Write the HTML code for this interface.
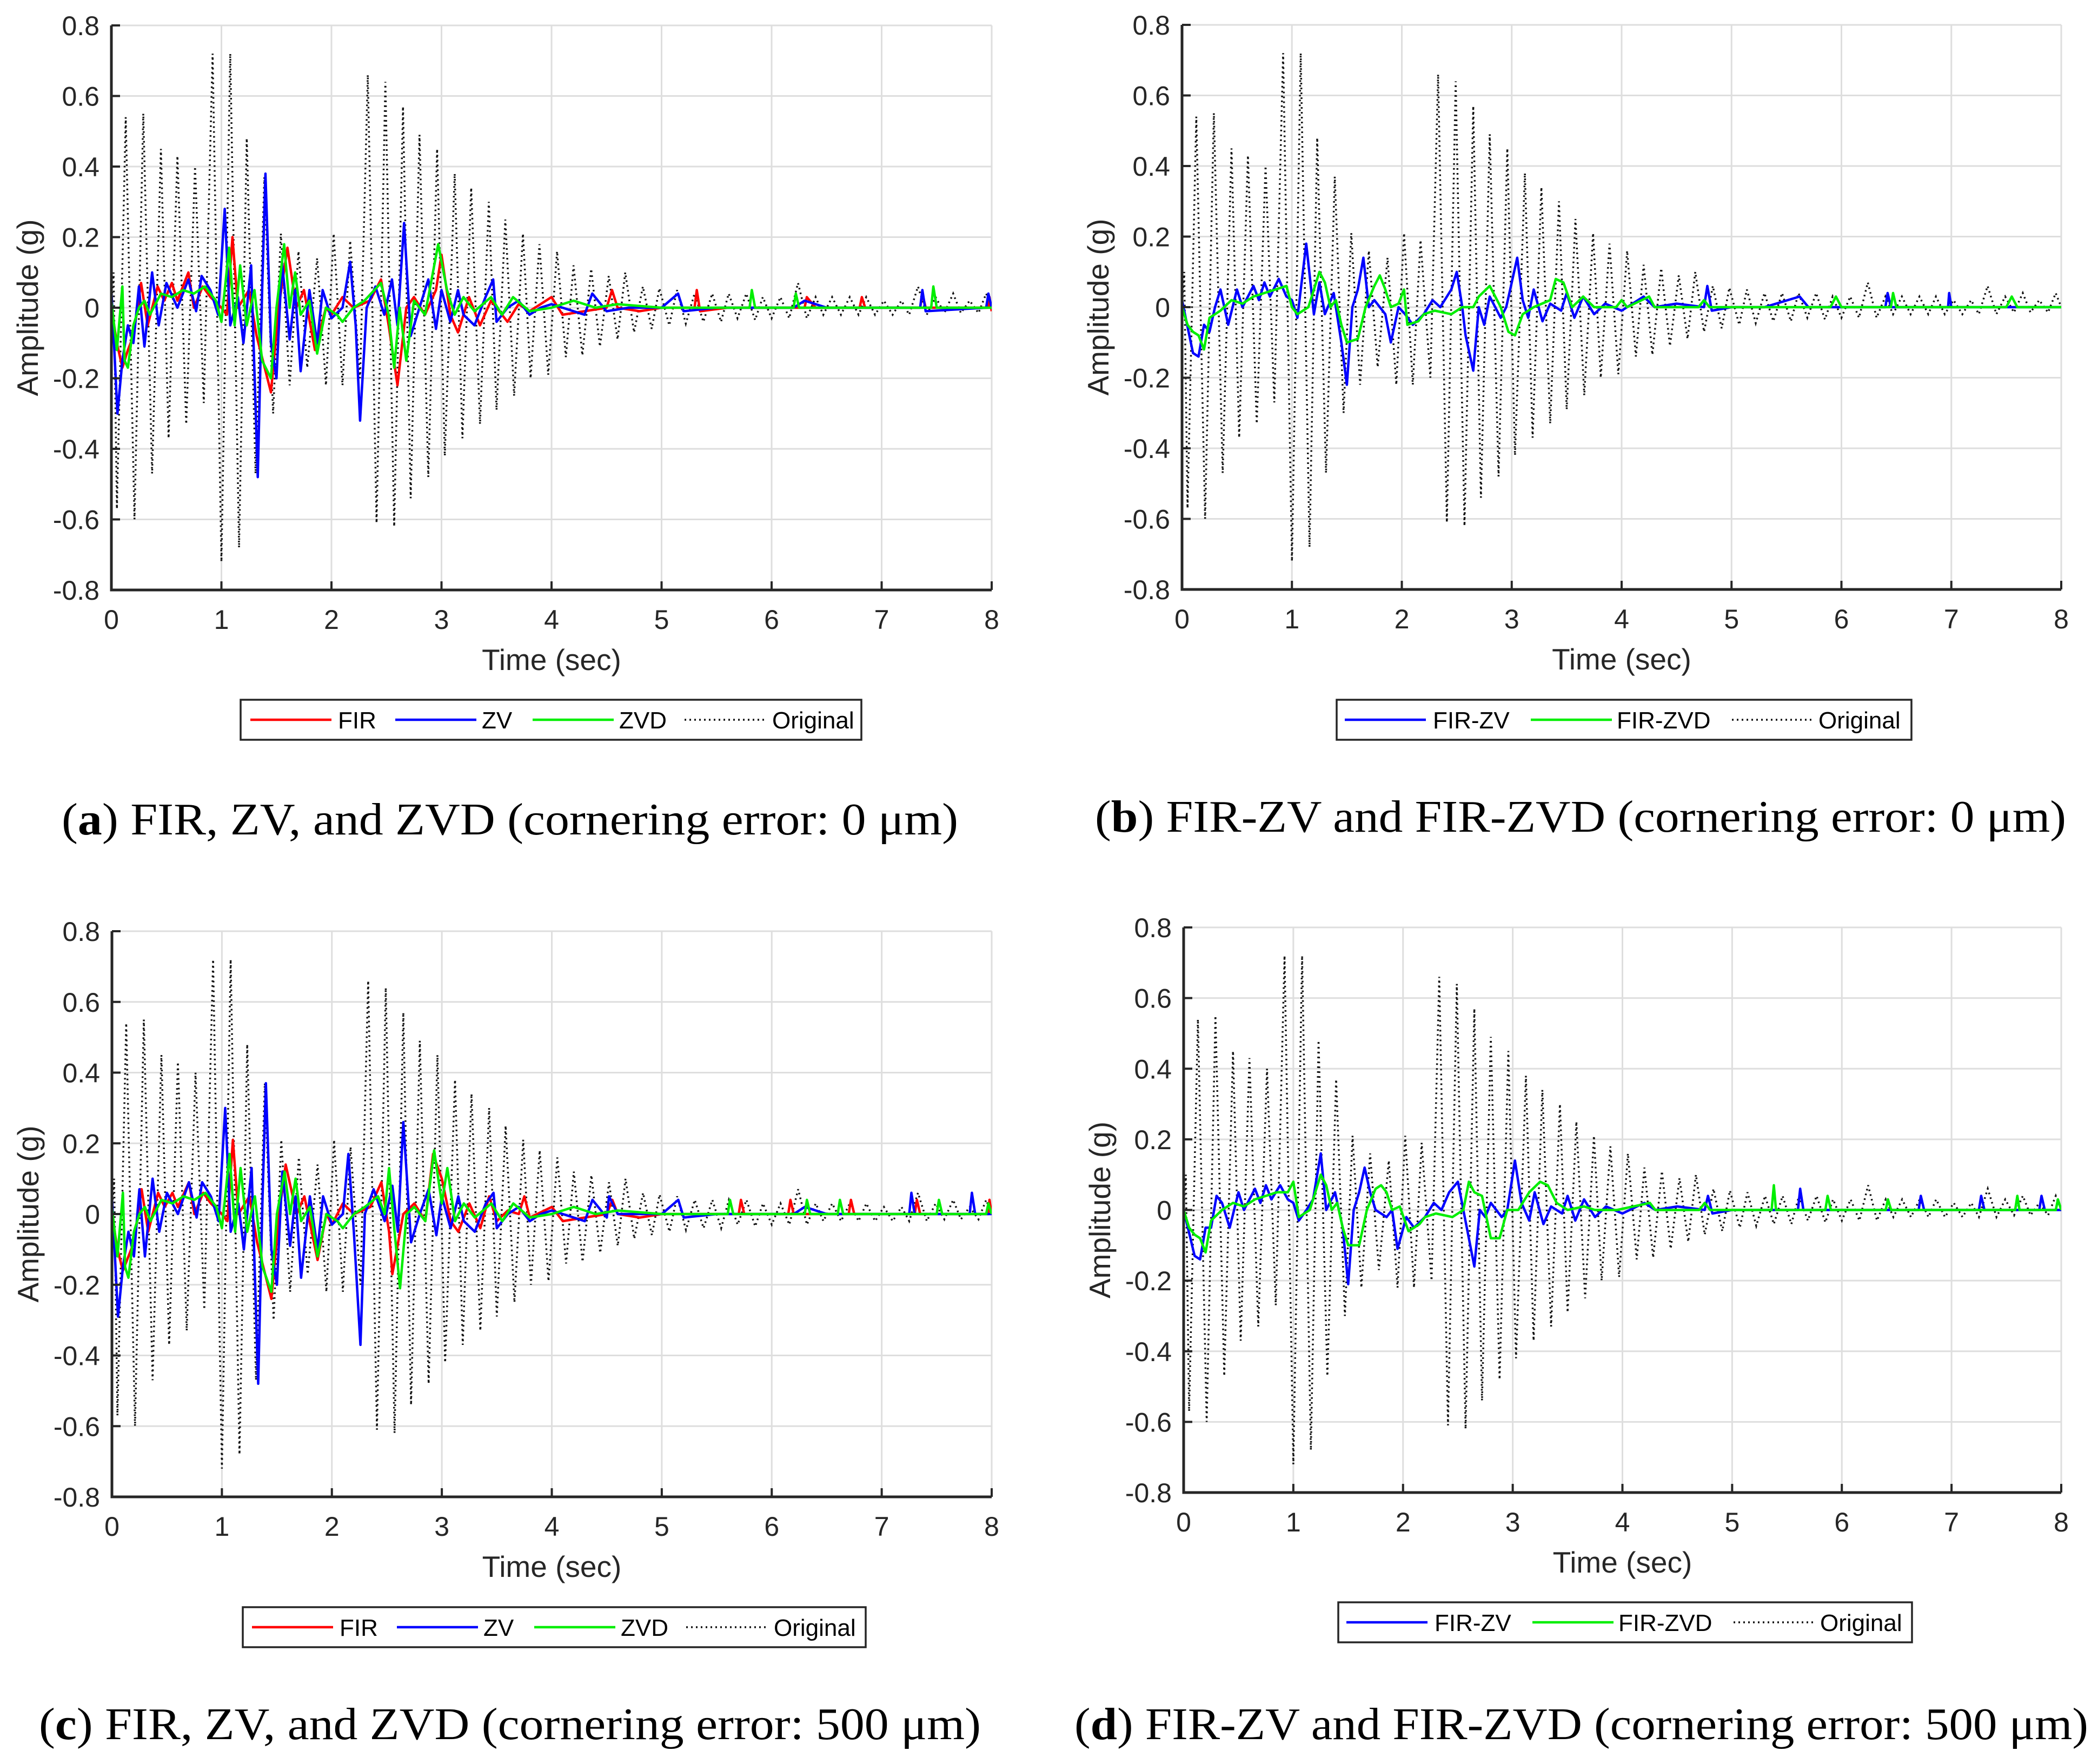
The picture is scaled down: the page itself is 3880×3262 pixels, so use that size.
<!DOCTYPE html>
<html><head><meta charset="utf-8"><style>
html,body{margin:0;padding:0;background:#fff;}
svg{display:block;}
</style></head><body>
<svg id="fig" xmlns="http://www.w3.org/2000/svg" width="3880" height="3262" viewBox="0 0 3880 3262" style="font-family:'Liberation Sans',sans-serif;">
<rect width="3880" height="3262" fill="#fff"/>
</svg>
<script>
// ---- shared data ----
const xTicks=[0,1,2,3,4,5,6,7,8];
const yTicks=[-0.8,-0.6,-0.4,-0.2,0,0.2,0.4,0.6,0.8];
const yTickLabels=['-0.8','-0.6','-0.4','-0.2','0','0.2','0.4','0.6','0.8'];
const origT=[0,0.02,0.05,0.13,0.21,0.29,0.37,0.45,0.52,0.6,0.68,0.76,0.84,0.92,1.0,1.08,1.16,1.23,1.31,1.39,1.47,1.54,1.62,1.7,1.78,1.87,1.95,2.02,2.1,2.17,2.26,2.33,2.41,2.49,2.57,2.65,2.72,2.8,2.88,2.96,3.03,3.12,3.19,3.27,3.35,3.43,3.5,3.58,3.66,3.74,3.81,3.89,3.97,4.05,4.13,4.2,4.28,4.36,4.44,4.52,4.6,4.67,4.75,4.83,4.91,4.98,5.07,5.14,5.22,5.3,5.38,5.46,5.54,5.61,5.69,5.77,5.85,5.92,6.0,6.08,6.16,6.24,6.32,6.4,6.47,6.55,6.63,6.71,6.79,6.86,6.94,7.02,7.1,7.18,7.25,7.33,7.41,7.49,7.57,7.65,7.72,7.8,7.88,7.95,8];
const origV=[0,0.1,-0.57,0.54,-0.6,0.55,-0.47,0.45,-0.37,0.43,-0.33,0.4,-0.27,0.72,-0.72,0.72,-0.68,0.48,-0.47,0.37,-0.3,0.21,-0.22,0.16,-0.17,0.14,-0.22,0.21,-0.22,0.19,-0.2,0.66,-0.61,0.64,-0.62,0.57,-0.54,0.49,-0.48,0.45,-0.42,0.38,-0.37,0.34,-0.33,0.3,-0.29,0.25,-0.25,0.21,-0.2,0.18,-0.19,0.16,-0.14,0.12,-0.135,0.11,-0.11,0.09,-0.09,0.1,-0.07,0.06,-0.06,0.055,-0.05,0.05,-0.045,0.04,-0.04,0.04,-0.04,0.04,-0.03,0.04,-0.035,0.03,-0.03,0.03,-0.03,0.07,-0.03,0.03,-0.02,0.03,-0.02,0.03,-0.02,0.03,-0.02,0.02,-0.02,0.02,-0.02,0.06,-0.02,0.03,-0.015,0.04,-0.015,0.02,-0.015,0.04,0];

// panel (a)
const aFirT=[0,0.05,0.1,0.15,0.2,0.27,0.33,0.42,0.48,0.55,0.6,0.7,0.75,0.83,0.9,1.0,1.05,1.1,1.15,1.25,1.32,1.45,1.52,1.6,1.68,1.75,1.85,1.95,2.0,2.1,2.2,2.35,2.45,2.52,2.6,2.68,2.75,2.85,2.95,3.0,3.08,3.15,3.25,3.35,3.45,3.6,3.7,3.8,4.0,4.1,4.3,4.5,4.55,4.6,4.8,5.0,5.3,5.32,5.35,5.6,6.3,6.32,6.4,6.8,6.82,6.85,7.35,7.37,7.4,7.97,7.98,8];
const aFirV=[0,-0.1,-0.17,-0.12,-0.08,0.07,-0.05,0.06,0.02,0.07,0.02,0.1,0,0.06,0.03,0,-0.02,0.2,0,0.05,-0.08,-0.24,0,0.17,0,0.05,-0.12,0,-0.02,0.03,0,0.02,0.08,-0.05,-0.22,0,0.03,-0.02,0.05,0.15,-0.02,-0.07,0.03,-0.05,0.02,-0.04,0.01,-0.01,0.03,-0.02,-0.01,0,0.05,0,-0.01,0,0,0.05,-0.01,0,0,0.03,0,0,0.03,0,0,0.04,0,0,0.03,-0.01];
const aZvT=[0,0.055,0.1,0.15,0.2,0.25,0.3,0.37,0.43,0.5,0.6,0.7,0.77,0.82,0.9,0.97,1.03,1.08,1.15,1.2,1.27,1.33,1.37,1.4,1.45,1.5,1.55,1.62,1.67,1.72,1.8,1.87,1.92,2.0,2.1,2.17,2.22,2.26,2.32,2.4,2.48,2.55,2.6,2.66,2.72,2.8,2.88,2.95,3.0,3.08,3.15,3.2,3.3,3.4,3.47,3.5,3.6,3.7,3.8,3.9,4.0,4.3,4.37,4.5,4.7,5.0,5.15,5.2,5.5,6.2,6.3,6.5,7.35,7.37,7.4,7.95,7.97,8];
const aZvV=[0.05,-0.3,-0.15,-0.05,-0.1,0.06,-0.11,0.1,-0.05,0.07,0,0.08,-0.01,0.09,0.05,-0.02,0.28,-0.05,0.03,-0.1,0.12,-0.48,0.05,0.38,-0.1,-0.2,0.13,-0.09,0.05,-0.18,0.05,-0.1,0.05,-0.03,0,0.13,-0.05,-0.32,0,0.06,-0.02,0.08,-0.05,0.24,-0.08,0,0.08,-0.06,0.05,-0.04,0.05,-0.02,-0.05,0.03,0.08,-0.04,0,0.02,-0.02,0,0.01,-0.02,0.04,-0.01,0,0,0.04,-0.01,0,0,0.02,0,0,0.05,-0.01,0,0.04,0];
const aZvdT=[0,0.05,0.1,0.12,0.15,0.2,0.25,0.3,0.35,0.45,0.55,0.65,0.75,0.85,0.95,1.0,1.07,1.12,1.17,1.23,1.3,1.37,1.45,1.5,1.57,1.62,1.67,1.72,1.8,1.87,1.95,2.05,2.1,2.2,2.3,2.45,2.52,2.57,2.62,2.68,2.75,2.85,2.97,3.05,3.12,3.2,3.3,3.45,3.55,3.65,3.8,4.0,4.2,4.4,4.6,5.0,5.8,5.82,5.85,6.2,6.22,6.25,6.5,7.45,7.47,7.5,8];
const aZvdV=[0.02,-0.12,0.06,-0.15,-0.17,-0.05,0,0.02,-0.02,0.04,0.03,0.05,0.04,0.06,0.02,-0.04,0.17,-0.05,0.12,-0.05,0.05,-0.15,-0.2,0,0.18,0,0.1,-0.02,0.02,-0.13,0,-0.02,-0.04,0,0.02,0.07,-0.02,-0.17,0,-0.15,0.02,-0.02,0.18,0.05,-0.02,0.03,-0.01,0.03,-0.02,0.03,-0.01,0,0.02,0,0.01,0,0,0.05,0,0,0.04,0,0,0,0.06,0,0];

// panel (c)
const cFirT=[0,0.05,0.1,0.15,0.2,0.27,0.33,0.42,0.48,0.55,0.6,0.7,0.75,0.83,0.9,1.0,1.05,1.1,1.15,1.25,1.32,1.45,1.52,1.58,1.68,1.75,1.87,1.95,2.0,2.1,2.2,2.35,2.45,2.52,2.55,2.65,2.75,2.85,2.92,3.0,3.08,3.15,3.25,3.35,3.43,3.5,3.6,3.7,3.75,3.8,4.0,4.1,4.3,4.5,4.55,4.6,4.8,5.0,5.3,5.7,5.72,5.75,6.15,6.17,6.2,6.7,6.72,6.75,7.3,7.32,7.35,7.97,7.98,8];
const cFirV=[0,-0.1,-0.16,-0.12,-0.08,0.07,-0.05,0.06,0.02,0.06,0.02,0.09,0,0.06,0.03,0,-0.02,0.21,0,0.05,-0.08,-0.24,0,0.14,0,0.05,-0.13,0,-0.03,0.03,0,0.02,0.09,-0.05,-0.17,0,0.03,-0.02,0.17,0.1,-0.02,-0.05,0.03,-0.04,0.05,-0.02,0.01,0,0.05,-0.01,0.02,-0.02,-0.01,0,0.04,0,-0.01,0,0,0,0.04,0,0,0.04,0,0,0.04,0,0,0.04,0,0,0.04,0];
const cZvT=[0,0.055,0.1,0.15,0.2,0.25,0.3,0.37,0.43,0.5,0.6,0.7,0.77,0.82,0.9,0.97,1.03,1.08,1.15,1.2,1.27,1.33,1.37,1.4,1.45,1.5,1.55,1.62,1.67,1.72,1.8,1.87,1.92,2.0,2.1,2.15,2.2,2.26,2.3,2.38,2.48,2.55,2.6,2.65,2.72,2.8,2.88,2.95,3.0,3.08,3.15,3.2,3.3,3.4,3.47,3.5,3.6,3.7,3.8,3.9,4.0,4.3,4.37,4.5,4.52,4.6,4.7,5.0,5.15,5.2,5.5,6.2,6.3,6.5,7.25,7.27,7.3,7.8,7.82,7.85,8];
const cZvV=[0.05,-0.29,-0.15,-0.05,-0.12,0.07,-0.12,0.1,-0.05,0.06,0,0.09,-0.01,0.09,0.05,-0.02,0.3,-0.05,0.03,-0.1,0.13,-0.48,0.05,0.37,-0.1,-0.2,0.12,-0.09,0.05,-0.18,0.05,-0.1,0.05,-0.03,0,0.17,-0.05,-0.37,0,0.07,-0.02,0.08,-0.05,0.26,-0.08,0,0.07,-0.06,0.05,-0.04,0.05,-0.02,-0.05,0.03,0.06,-0.04,0,0.02,-0.02,0,0.01,-0.02,0.04,-0.01,0.05,0,0,0,0.04,-0.01,0,0,0.02,0,0,0.06,0,0,0.06,0,0];
const cZvdT=[0,0.05,0.1,0.12,0.15,0.2,0.25,0.3,0.35,0.45,0.55,0.65,0.75,0.85,0.95,1.0,1.07,1.12,1.17,1.23,1.3,1.37,1.45,1.5,1.57,1.62,1.67,1.72,1.8,1.87,1.95,2.05,2.1,2.2,2.3,2.42,2.48,2.52,2.57,2.62,2.68,2.75,2.85,2.93,3.0,3.05,3.12,3.2,3.3,3.45,3.55,3.65,3.8,4.0,4.2,4.4,4.6,5.0,5.6,5.62,5.65,6.3,6.32,6.35,6.6,6.62,6.65,7.5,7.52,7.55,7.95,7.97,8];
const cZvdV=[0.02,-0.12,0.06,-0.15,-0.18,-0.05,0,0.02,-0.02,0.04,0.03,0.05,0.04,0.06,0.02,-0.04,0.17,-0.05,0.13,-0.05,0.05,-0.15,-0.22,0,0.12,0,0.1,-0.02,0.02,-0.12,0,-0.02,-0.04,0,0.02,0.05,0,0.13,-0.05,-0.21,0,0.02,-0.02,0.18,0.03,0.13,-0.02,0.03,-0.01,0.03,-0.02,0.03,-0.01,0,0.02,0,0.01,0,0,0.04,0,0,0.04,0,0,0.04,0,0,0.04,0,0,0.03,0];

// panel (b)
const bZvT=[0,0.1,0.15,0.2,0.25,0.3,0.35,0.42,0.5,0.55,0.6,0.65,0.7,0.75,0.8,0.88,0.95,1.0,1.05,1.13,1.2,1.25,1.3,1.38,1.45,1.5,1.55,1.6,1.65,1.7,1.75,1.85,1.9,1.97,2.03,2.1,2.2,2.28,2.35,2.45,2.5,2.55,2.58,2.65,2.7,2.75,2.8,2.9,2.95,3.0,3.05,3.1,3.15,3.2,3.28,3.35,3.45,3.5,3.57,3.65,3.75,3.85,4.0,4.2,4.3,4.5,4.75,4.78,4.82,5.0,5.3,5.62,5.7,6.4,6.42,6.45,6.97,6.98,7.0,8];
const bZvV=[0.02,-0.13,-0.14,-0.05,-0.07,0,0.05,-0.05,0.05,0,0.03,0.06,0.02,0.07,0.03,0.08,0.03,0.02,-0.03,0.18,-0.02,0.07,-0.02,0.04,-0.1,-0.22,0,0.05,0.14,0,0.02,-0.02,-0.1,0,-0.02,-0.05,-0.02,0.02,0,0.05,0.1,0,-0.08,-0.18,0,-0.05,0.03,-0.03,0,0.07,0.14,0.02,-0.03,0.05,-0.04,0.01,-0.01,0.04,-0.03,0.03,-0.02,0.01,-0.01,0.03,0,0.01,0,0.06,-0.01,0,0,0.03,0,0,0.04,0,0,0.04,0,0];
const bZvdT=[0,0.05,0.1,0.15,0.2,0.25,0.35,0.45,0.55,0.65,0.75,0.85,0.95,1.0,1.05,1.15,1.25,1.3,1.35,1.4,1.45,1.5,1.6,1.67,1.75,1.8,1.85,1.9,1.97,2.02,2.05,2.15,2.2,2.3,2.45,2.55,2.65,2.7,2.8,2.85,2.9,2.97,3.03,3.1,3.2,3.35,3.4,3.47,3.55,3.65,3.75,3.95,4.0,4.05,4.25,4.3,4.5,4.7,4.75,4.8,5.0,5.9,5.95,6.0,6.45,6.47,6.5,7.5,7.55,7.6,8];
const bZvdV=[0,-0.05,-0.07,-0.08,-0.12,-0.03,-0.01,0.02,0.01,0.03,0.04,0.05,0.06,0,-0.02,0,0.1,0.07,0,0.02,-0.05,-0.1,-0.09,0,0.06,0.09,0.05,0,0.01,0.05,-0.05,-0.04,-0.02,-0.01,-0.02,0,0,0.03,0.06,0.03,0,-0.07,-0.08,-0.02,0,0.02,0.08,0.07,0,0.03,0,0,0.02,0,0.03,0,0,0,0.02,0,0,0,0.03,0,0,0.04,0,0,0.03,0,0];

// panel (d)
const dZvT=[0,0.1,0.15,0.2,0.25,0.3,0.35,0.42,0.5,0.55,0.6,0.65,0.7,0.75,0.8,0.88,0.95,1.0,1.05,1.12,1.18,1.25,1.3,1.38,1.45,1.5,1.55,1.6,1.65,1.7,1.75,1.85,1.9,1.95,2.03,2.1,2.2,2.28,2.35,2.42,2.5,2.55,2.6,2.65,2.7,2.75,2.8,2.9,2.95,3.02,3.08,3.15,3.2,3.28,3.35,3.45,3.5,3.57,3.65,3.75,3.85,4.0,4.2,4.3,4.5,4.75,4.78,4.82,5.0,5.6,5.62,5.65,6.7,6.72,6.75,7.25,7.27,7.3,7.8,7.82,7.85,8];
const dZvV=[0,-0.13,-0.14,-0.05,-0.05,0.04,0.02,-0.05,0.05,0,0.03,0.06,0.02,0.07,0.03,0.07,0.03,0.02,-0.03,0.0,0.03,0.16,0.0,0.05,-0.05,-0.21,0,0.05,0.12,0.05,0,-0.02,0.0,-0.11,-0.02,-0.05,-0.02,0.02,0,0.05,0.08,0,-0.08,-0.16,0,-0.02,0.02,-0.02,0,0.14,0.02,-0.03,0.05,-0.04,0.01,-0.01,0.04,-0.03,0.03,-0.02,0.01,-0.01,0.02,0,0.01,0,0.04,-0.01,0,0,0.06,0,0,0.04,0,0,0.04,0,0,0.04,0,0];
const dZvdT=[0,0.05,0.1,0.15,0.2,0.25,0.35,0.45,0.55,0.65,0.75,0.85,0.95,1.0,1.05,1.15,1.25,1.3,1.35,1.4,1.45,1.5,1.6,1.67,1.75,1.8,1.85,1.9,1.97,2.05,2.15,2.2,2.3,2.45,2.55,2.6,2.65,2.72,2.8,2.88,2.95,3.05,3.15,3.25,3.32,3.4,3.5,3.65,3.75,3.95,4.25,4.3,4.5,4.7,4.75,4.8,5.0,5.36,5.38,5.4,5.85,5.87,5.9,6.4,6.42,6.45,7.58,7.6,7.62,7.95,7.97,8];
const dZvdV=[0,-0.05,-0.07,-0.08,-0.12,-0.03,0.0,0.02,0.01,0.03,0.04,0.05,0.05,0.08,-0.02,0.0,0.1,0.07,0.0,0.02,-0.05,-0.1,-0.1,0,0.06,0.07,0.05,0,0.01,-0.06,-0.04,-0.02,-0.01,-0.02,0,0.08,0.05,0.04,-0.08,-0.08,0,0.0,0.05,0.08,0.07,0.02,0,0.01,0,0,0.02,0,0,0,0.02,0,0,0,0.07,0,0,0.04,0,0,0.03,0,0,0.04,0,0,0.03,0];

const svg=document.getElementById('fig');
const NS='http://www.w3.org/2000/svg';
function mk(tag,attrs,parent){const e=document.createElementNS(NS,tag);for(const k in attrs)e.setAttribute(k,attrs[k]);(parent||svg).appendChild(e);return e;}

function drawPanel(p){
  const g=mk('g',{});
  
  
  const X=t=>p.L+(t/8)*(p.R-p.L);
  const Y=v=>p.T+(0.8-v)/1.6*(p.B-p.T);
  xTicks.forEach(t=>{const l=mk('line',{x1:X(t),x2:X(t),y1:p.T,y2:p.B,stroke:'#dedede','stroke-width':3},g);
    });
  yTicks.forEach(v=>{const l=mk('line',{x1:p.L,x2:p.R,y1:Y(v),y2:Y(v),stroke:'#dedede','stroke-width':3},g);
    });
  const cp=mk('clipPath',{id:'clip-'+p.id},g);mk('rect',{x:p.L,y:p.T,width:p.R-p.L,height:p.B-p.T},cp);
  const sg=mk('g',{'clip-path':'url(#clip-'+p.id+')'},g);
  const od=origT.map((t,i)=>(i?'L':'M')+X(t).toFixed(1)+' '+Y(origV[i]).toFixed(1)).join(' ');
  const op=mk('path',{d:od,fill:'none',stroke:'#111','stroke-width':3.5,'stroke-dasharray':'3 6'},sg);
  
  
  p.series.forEach(s=>{
    const d=s.t.map((t,i)=>(i?'L':'M')+X(t).toFixed(1)+' '+Y(s.v[i]).toFixed(1)).join(' ');
    const pa=mk('path',{d:d,fill:'none',stroke:s.color,'stroke-width':4.5,'stroke-linejoin':'round'},sg);
    
    
  });
  const ax=mk('path',{d:`M${p.L} ${p.T} L${p.L} ${p.B} L${p.R} ${p.B}`,fill:'none',stroke:'#262626','stroke-width':5},g);
  
  
  xTicks.forEach(t=>{mk('line',{x1:X(t),x2:X(t),y1:p.B,y2:p.B-16,stroke:'#262626','stroke-width':4},g);
    const tx=mk('text',{x:X(t),y:p.B+72,'text-anchor':'middle','font-size':50,fill:'#262626'},g);tx.textContent=String(t);
    });
  yTicks.forEach((v,i)=>{mk('line',{x1:p.L,x2:p.L+16,y1:Y(v),y2:Y(v),stroke:'#262626','stroke-width':4},g);
    const tx=mk('text',{x:p.L-22,y:Y(v)+18,'text-anchor':'end','font-size':50,fill:'#262626'},g);tx.textContent=yTickLabels[i];
    });
  const xl=mk('text',{x:(p.L+p.R)/2,y:p.B+148,'text-anchor':'middle','font-size':55,fill:'#262626'},g);xl.textContent='Time (sec)';
  
  const yc=(p.T+p.B)/2;
  const yl=mk('text',{x:p.L-136,y:yc,'text-anchor':'middle','font-size':55,fill:'#262626',transform:`rotate(-90 ${p.L-136} ${yc})`},g);yl.textContent='Amplitude (g)';
  
  const lg=mk('g',{},g);
  
  
  mk('rect',{x:p.leg.x,y:p.leg.y,width:p.leg.w,height:p.leg.h,fill:'#fff',stroke:'#262626','stroke-width':3.5},lg);
  const ly=p.leg.y+p.leg.h/2;
  p.leg.items.forEach(it=>{
    const ln=mk('line',{x1:it.x,x2:it.x+150,y1:ly,y2:ly,stroke:it.color,'stroke-width':it.dash?3.5:4.5},lg);
    if(it.dash)ln.setAttribute('stroke-dasharray','3 6');
    const tx=mk('text',{x:it.tx,y:ly+16,'font-size':44,fill:'#000'},lg);tx.textContent=it.label;
    
  });
  const cap=mk('text',{x:p.cap.x,y:p.cap.y,'font-size':84,'font-family':"'Liberation Serif',serif",fill:'#000',textLength:p.cap.w,lengthAdjust:'spacingAndGlyphs'},svg);
  
  
  const t1=mk('tspan',{},cap);t1.textContent='(';
  const t2=mk('tspan',{'font-weight':'bold'},cap);t2.textContent=p.id.slice(-1);
  const t3=mk('tspan',{},cap);t3.textContent=') '+p.cap.text;
}

drawPanel({id:'panel-a',L:206,R:1834,T:47,B:1091,
  series:[{name:'fir',color:'#ff0000',t:aFirT,v:aFirV},{name:'zv',color:'#0000ff',t:aZvT,v:aZvV},{name:'zvd',color:'#00ee00',t:aZvdT,v:aZvdV}],
  leg:{x:445,y:1294,w:1148,h:74,items:[{x:463,tx:625,color:'#ff0000',label:'FIR'},{x:731,tx:891,color:'#0000ff',label:'ZV'},{x:985,tx:1145,color:'#00ee00',label:'ZVD'},{x:1266,tx:1428,color:'#111',dash:1,label:'Original'}]},
  cap:{x:114,y:1543,w:1658,text:'FIR, ZV, and ZVD (cornering error: 0 μm)'}});
drawPanel({id:'panel-b',L:2186,R:3812,T:46,B:1090,
  series:[{name:'fir-zv',color:'#0000ff',t:bZvT,v:bZvV},{name:'fir-zvd',color:'#00ee00',t:bZvdT,v:bZvdV}],
  leg:{x:2472,y:1294,w:1063,h:74,items:[{x:2487,tx:2650,color:'#0000ff',label:'FIR-ZV'},{x:2831,tx:2990,color:'#00ee00',label:'FIR-ZVD'},{x:3203,tx:3363,color:'#111',dash:1,label:'Original'}]},
  cap:{x:2025,y:1538,w:1796,text:'FIR-ZV and FIR-ZVD (cornering error: 0 μm)'}});
drawPanel({id:'panel-c',L:207,R:1834,T:1722,B:2768,
  series:[{name:'fir',color:'#ff0000',t:cFirT,v:cFirV},{name:'zv',color:'#0000ff',t:cZvT,v:cZvV},{name:'zvd',color:'#00ee00',t:cZvdT,v:cZvdV}],
  leg:{x:449,y:2972,w:1152,h:74,items:[{x:466,tx:628,color:'#ff0000',label:'FIR'},{x:734,tx:894,color:'#0000ff',label:'ZV'},{x:988,tx:1148,color:'#00ee00',label:'ZVD'},{x:1269,tx:1431,color:'#111',dash:1,label:'Original'}]},
  cap:{x:72,y:3216,w:1742,text:'FIR, ZV, and ZVD (cornering error: 500 μm)'}});
drawPanel({id:'panel-d',L:2189,R:3812,T:1715,B:2760,
  series:[{name:'fir-zv',color:'#0000ff',t:dZvT,v:dZvV},{name:'fir-zvd',color:'#00ee00',t:dZvdT,v:dZvdV}],
  leg:{x:2475,y:2963,w:1061,h:74,items:[{x:2490,tx:2653,color:'#0000ff',label:'FIR-ZV'},{x:2834,tx:2993,color:'#00ee00',label:'FIR-ZVD'},{x:3206,tx:3366,color:'#111',dash:1,label:'Original'}]},
  cap:{x:1987,y:3216,w:1875,text:'FIR-ZV and FIR-ZVD (cornering error: 500 μm)'}});
</script>
</body></html>
